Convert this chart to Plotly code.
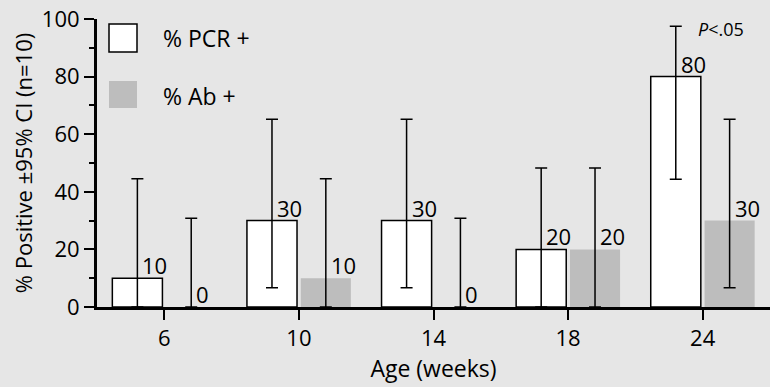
import plotly.graph_objects as go

ages = ["6", "10", "14", "18", "24"]
pcr = [10, 30, 30, 20, 80]
pcr_hi = [44.5, 65.2, 65.2, 48.3, 97.5]
pcr_lo = [0, 6.7, 6.7, 0, 44.4]
ab = [0, 10, 0, 20, 30]
ab_hi = [30.8, 44.5, 30.8, 48.3, 65.2]
ab_lo = [0, 0, 0, 0, 6.7]

FONT = "Open Sans"
FS = 22
BG = "#e6e6e6"
GRAY = "#bdbdbd"
xs = list(range(len(ages)))

fig = go.Figure()
fig.add_trace(go.Bar(
    x=xs, y=pcr, name="% PCR +",
    marker=dict(color="white", line=dict(color="black", width=1.5)),
    error_y=dict(type="data", symmetric=False,
                 array=[h - v for h, v in zip(pcr_hi, pcr)],
                 arrayminus=[v - l for l, v in zip(pcr_lo, pcr)],
                 color="black", thickness=1.5, width=6),
))
fig.add_trace(go.Bar(
    x=xs, y=ab, name="% Ab +",
    marker=dict(color=GRAY, line=dict(width=0)),
    error_y=dict(type="data", symmetric=False,
                 array=[h - v for h, v in zip(ab_hi, ab)],
                 arrayminus=[v - l for l, v in zip(ab_lo, ab)],
                 color="black", thickness=1.5, width=6),
))

GROUP = 0.8
off = GROUP / 4
for i, v in enumerate(pcr):
    fig.add_annotation(x=i - off, y=v, text=str(v), xanchor="left", yanchor="bottom",
                       xshift=3, yshift=-4, showarrow=False,
                       font=dict(family=FONT, size=FS, color="black"))
for i, v in enumerate(ab):
    fig.add_annotation(x=i + off, y=v, text=str(v), xanchor="left", yanchor="bottom",
                       xshift=3, yshift=-4, showarrow=False,
                       font=dict(family=FONT, size=FS, color="black"))

fig.add_annotation(x=4 - off, y=pcr_hi[4], text="<i>P</i><.05", xanchor="left", yanchor="middle",
                   xshift=20, yshift=-3, showarrow=False,
                   font=dict(family=FONT, size=18, color="black"))

# legend drawn manually
fig.add_shape(type="rect", xref="paper", yref="paper", x0=12/673, x1=40/673,
              y0=(288-33)/288, y1=(288-5)/288, fillcolor="white",
              line=dict(color="black", width=1.5))
fig.add_shape(type="rect", xref="paper", yref="paper", x0=12/673, x1=40/673,
              y0=(288-89)/288, y1=(288-62)/288, fillcolor=GRAY, line=dict(width=0))
fig.add_annotation(xref="paper", yref="paper", x=64/673, y=(288-19)/288, text="% PCR +",
                   xanchor="left", yanchor="middle", showarrow=False,
                   font=dict(family=FONT, size=23, color="black"))
fig.add_annotation(xref="paper", yref="paper", x=64/673, y=(288-77)/288, text="% Ab +",
                   xanchor="left", yanchor="middle", showarrow=False,
                   font=dict(family=FONT, size=23, color="black"))

fig.update_layout(
    width=770, height=387,
    margin=dict(l=97, r=0, t=19, b=80, autoexpand=False),
    paper_bgcolor=BG, plot_bgcolor=BG,
    barmode="group", bargap=1 - GROUP, bargroupgap=0.07,
    showlegend=False,
    font=dict(family=FONT, size=FS, color="black"),
    xaxis=dict(range=[-0.5, 4.5], tickvals=xs, ticktext=ages, automargin=False,
               showline=True, linecolor="black", linewidth=3,
               ticks="outside", ticklen=10, tickwidth=1.5, tickcolor="black",
               showgrid=False, zeroline=False,
               title=dict(text="Age (weeks)", standoff=5,
                          font=dict(family=FONT, size=23))),
    yaxis=dict(range=[0, 100], tickvals=[0, 20, 40, 60, 80, 100], automargin=False,
               showline=True, linecolor="black", linewidth=3,
               ticks="outside", ticklen=10, tickwidth=1.5, tickcolor="black",
               minor=dict(tickvals=[10, 30, 50, 70, 90], ticks="outside", ticklen=5,
                          tickwidth=1.5, tickcolor="black", showgrid=False),
               showgrid=False, zeroline=False,
               title=dict(text="% Positive ±95% CI (n=10)", standoff=4,
                          font=dict(family=FONT, size=FS))),
)

fig.write_html("out.html", config={"displayModeBar": False},
               post_script="document.body.style.margin='0';")
